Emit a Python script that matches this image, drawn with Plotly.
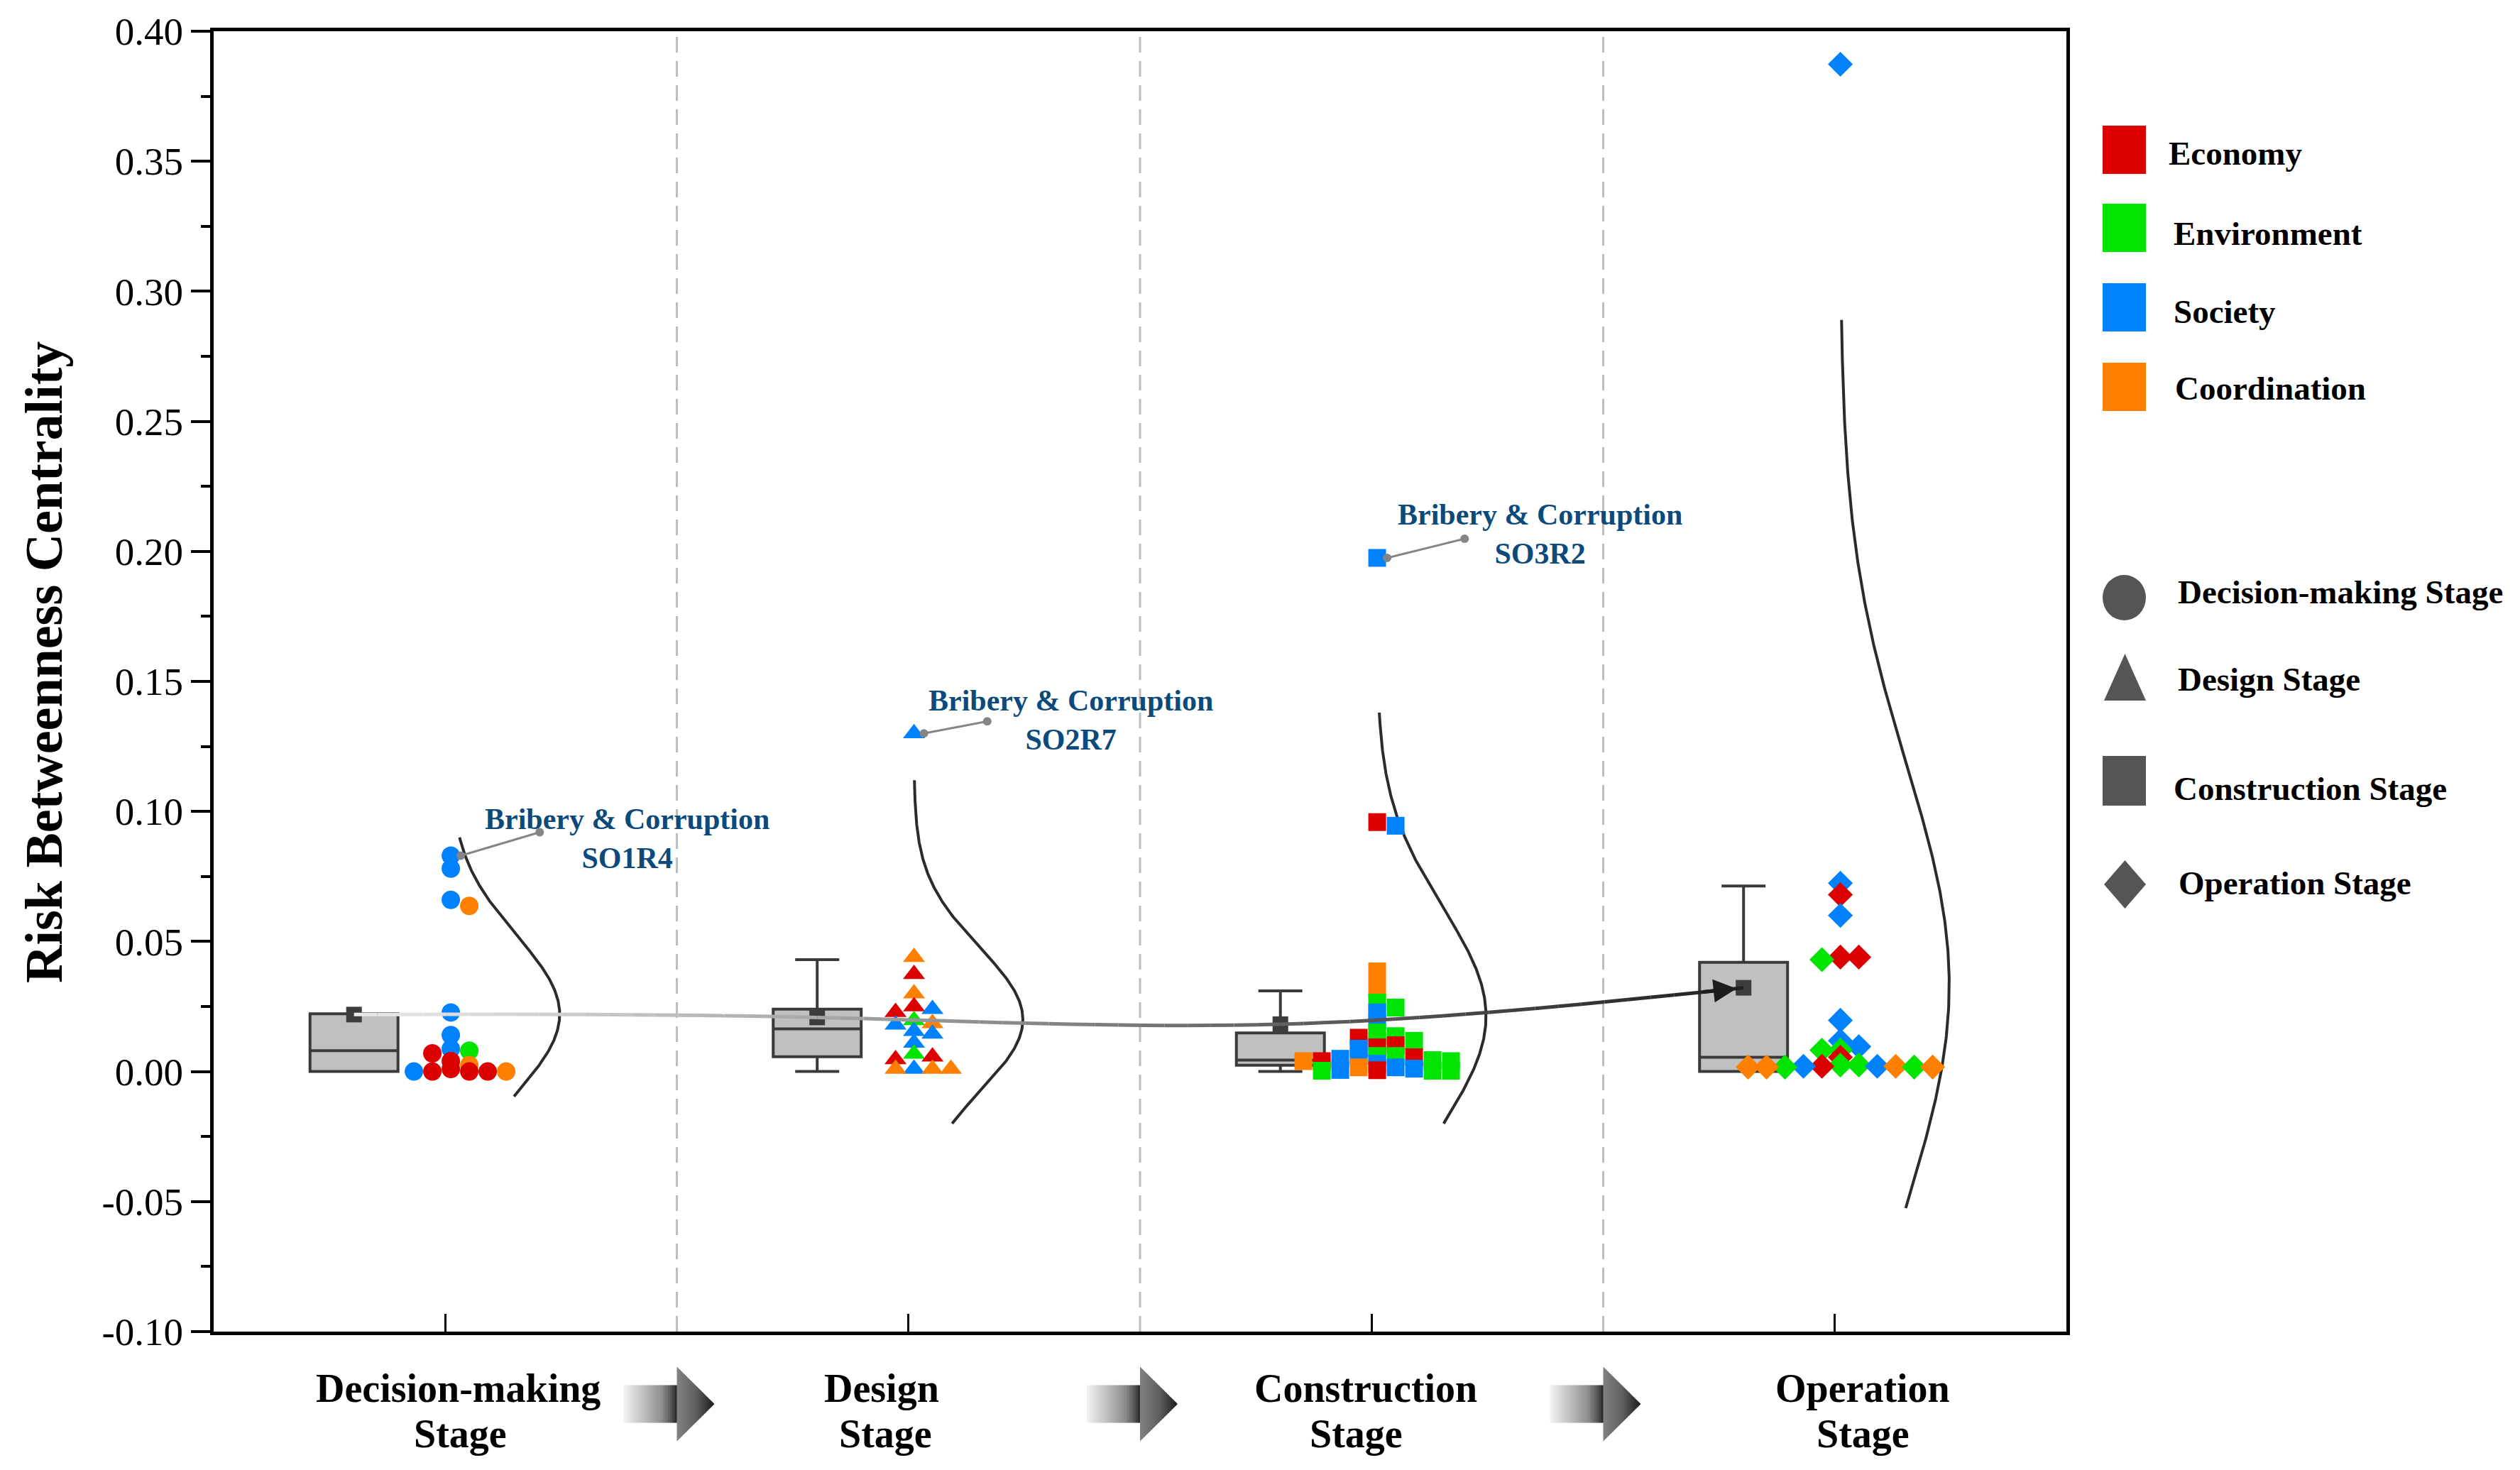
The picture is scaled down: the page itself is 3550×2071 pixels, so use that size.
import numpy as np
import plotly.graph_objects as go

# ---------------------------------------------------------------- data
stage_names = ["Decision-making Stage", "Design Stage", "Construction Stage", "Operation Stage"]
stage_label_top = ["Decision-making", "Design", "Construction", "Operation"]
stage_label_bottom = ["Stage", "Stage", "Stage", "Stage"]
dimension_names = ["Economy", "Environment", "Society", "Coordination"]

decision_economy = [0.0070, 0.0040, 0.0010, 0.0000, 0.0000, 0.0000]
decision_environment = [0.0080]
decision_society = [0.0830, 0.0780, 0.0660, 0.0227, 0.0140, 0.0087, 0.0000]
decision_coordination = [0.0637, 0.0025, 0.0000]

design_economy = [0.0374, 0.0250, 0.0228, 0.0057, 0.0047]
design_environment = [0.0197, 0.0068]
design_society = [0.1300, 0.0240, 0.0180, 0.0155, 0.0145, 0.0110, 0.0010]
design_coordination = [0.0440, 0.0300, 0.0185, 0.0010, 0.0010, 0.0010]

construction_economy = [0.0959, 0.0130, 0.0101, 0.0093, 0.0055, 0.0040, 0.0005]
construction_environment = [0.0265, 0.0246, 0.0150, 0.0136, 0.0118, 0.0118, 0.0060,
                            0.0060, 0.0044, 0.0040, 0.0003, 0.0003, 0.0003]
construction_society = [0.1975, 0.0945, 0.0227, 0.0194, 0.0088, 0.0060, 0.0049,
                        0.0030, 0.0016, 0.0011, 0.0006]
construction_coordination = [0.0385, 0.0317, 0.0040, 0.0016]

operation_economy = [0.0680, 0.0440, 0.0440, 0.0055, 0.0020]
operation_environment = [0.0430, 0.0082, 0.0082, 0.0025, 0.0025, 0.0017, 0.0017]
operation_society = [0.3873, 0.0724, 0.0600, 0.0197, 0.0118, 0.0096, 0.0020, 0.0020]
operation_coordination = [0.0020, 0.0017, 0.0017, 0.0017]

# box statistics per stage
box_q1 = [0.0000, 0.0057, 0.0024, 0.0000]
box_median = [0.0080, 0.0164, 0.0044, 0.0055]
box_q3 = [0.0222, 0.0240, 0.0148, 0.0420]
box_lower = [0.0000, 0.0000, 0.0000, 0.0000]
box_upper = [0.0222, 0.0430, 0.0310, 0.0713]
stage_mean = [0.0219, 0.0208, 0.0182, 0.0322]

# fitted normal distribution curves per stage
curve_mean = [0.0220, 0.0200, 0.0213, 0.0333]
curve_sd = [0.0303, 0.0276, 0.0416, 0.0850]
curve_low = [-0.0096, -0.0200, -0.0200, -0.0525]
curve_high = [0.0900, 0.1120, 0.1380, 0.2890]

y_tick_values = [-0.10, -0.05, 0.00, 0.05, 0.10, 0.15, 0.20, 0.25, 0.30, 0.35, 0.40]
y_tick_labels = ["-0.10", "-0.05", "0.00", "0.05", "0.10", "0.15", "0.20", "0.25", "0.30", "0.35", "0.40"]

highlight_stage = [0, 1, 2]
highlight_text = ["Bribery & Corruption<br>SO1R4",
                  "Bribery & Corruption<br>SO2R7",
                  "Bribery & Corruption<br>SO3R2"]

stage_values = [
    [decision_economy, decision_environment, decision_society, decision_coordination],
    [design_economy, design_environment, design_society, design_coordination],
    [construction_economy, construction_environment, construction_society, construction_coordination],
    [operation_economy, operation_environment, operation_society, operation_coordination],
]

# ---------------------------------------------------------------- style
FONT = "Liberation Serif"
dim_colors = ["#DC0000", "#00E400", "#0082FF", "#FF7F00"]
stage_symbols = ["circle", "triangle-up", "square", "diamond"]
stage_marker_size = [26, 27, 25, 27]
SHAPE_GREY = "#555555"

W, H = 3550, 2071
PL, PR, PT, PB = 301, 2911, 44, 1876
X0, X1 = 0.5, 4.5
Y0, Y1 = -0.10, 0.40
UX = (PR - PL) / (X1 - X0)   # px per category unit
UY = (PB - PT) / (Y1 - Y0)   # px per value unit

SWARM_CENTER = 0.012
SWARM_STEP = 26 / UX
SWARM_THR = 9 / UY
BOX_OFFSET = -0.197
BOX_WIDTH = 0.19
CURVE_BASE = 0.012
CURVE_AMP = 0.235


def paper_x(xpx):
    return (xpx - PL) / (PR - PL)


def paper_y(ypx):
    return (PB - ypx) / (PB - PT)


def swarm_offsets(values):
    vals = np.asarray(values, dtype=float)
    order = np.argsort(-vals, kind="stable")
    placed = []
    offs = np.zeros(len(vals))
    cands = [0] + [s for j in range(1, 60) for s in (j, -j)]
    for i in order:
        v = vals[i]
        for s in cands:
            if all(not (ps == s and abs(pv - v) < SWARM_THR) for ps, pv in placed):
                break
        placed.append((s, v))
        offs[i] = s * SWARM_STEP
    return offs, order


def natural_spline(xk, yk, xs):
    xk = np.asarray(xk, float)
    yk = np.asarray(yk, float)
    n = len(xk)
    h = np.diff(xk)
    A = np.zeros((n, n))
    r = np.zeros(n)
    A[0, 0] = 1
    A[-1, -1] = 1
    for i in range(1, n - 1):
        A[i, i - 1] = h[i - 1]
        A[i, i] = 2 * (h[i - 1] + h[i])
        A[i, i + 1] = h[i]
        r[i] = 3 * ((yk[i + 1] - yk[i]) / h[i] - (yk[i] - yk[i - 1]) / h[i - 1])
    c = np.linalg.solve(A, r)
    b = np.array([(yk[i + 1] - yk[i]) / h[i] - h[i] * (2 * c[i] + c[i + 1]) / 3 for i in range(n - 1)])
    d = np.array([(c[i + 1] - c[i]) / (3 * h[i]) for i in range(n - 1)])
    out = []
    for x in xs:
        i = min(max(np.searchsorted(xk, x) - 1, 0), n - 2)
        t = x - xk[i]
        out.append(yk[i] + b[i] * t + c[i] * t ** 2 + d[i] * t ** 3)
    return np.array(out)


fig = go.Figure()

# dashed separators between stages
for i in range(len(stage_names) - 1):
    fig.add_shape(type="line", xref="x", yref="paper", x0=i + 1.5, x1=i + 1.5, y0=0, y1=1,
                  line=dict(color="#BDBDBD", width=3, dash="22px,12px"), layer="below")

# boxes
box_x = [i + 1 + BOX_OFFSET for i in range(len(stage_names))]
fig.add_trace(go.Box(x=box_x, q1=box_q1, median=box_median, q3=box_q3,
                     lowerfence=box_lower, upperfence=box_upper, orientation="v",
                     width=BOX_WIDTH, whiskerwidth=0.5, fillcolor="#C0C0C0",
                     line=dict(color="#3A3A3A", width=4), boxpoints=False,
                     hoverinfo="skip", showlegend=False))

# distribution curves
for s in range(len(stage_names)):
    ys = np.linspace(curve_low[s], curve_high[s], 300)
    xs = s + 1 + CURVE_BASE + CURVE_AMP * np.exp(-0.5 * ((ys - curve_mean[s]) / curve_sd[s]) ** 2)
    fig.add_trace(go.Scatter(x=xs, y=ys, mode="lines", line=dict(color="#2B2B2B", width=4),
                             hoverinfo="skip", showlegend=False))

# mean markers
fig.add_trace(go.Scatter(x=box_x, y=stage_mean, mode="markers",
                         marker=dict(symbol="square", size=22, color="#3C3C3C"),
                         hoverinfo="skip", showlegend=False))

# swarm points
point_pos = {}
for s in range(len(stage_names)):
    vals, cols, keys = [], [], []
    for d, lst in enumerate(stage_values[s]):
        for j, v in enumerate(lst):
            vals.append(v)
            cols.append(dim_colors[d])
            keys.append((d, j))
    offs, order = swarm_offsets(vals)
    xs = [s + 1 + SWARM_CENTER + offs[i] for i in order]
    ys = [vals[i] for i in order]
    cs = [cols[i] for i in order]
    for i in order:
        point_pos[(s,) + keys[i]] = (s + 1 + SWARM_CENTER + offs[i], vals[i])
    fig.add_trace(go.Scatter(x=xs, y=ys, mode="markers",
                             marker=dict(symbol=stage_symbols[s], size=stage_marker_size[s],
                                         color=cs, line=dict(width=0)),
                             hoverinfo="skip", showlegend=False))

# gradient mean-connecting spline
xs_line = np.linspace(box_x[0], box_x[-1], 301)
ys_line = natural_spline(box_x, stage_mean, xs_line)
nseg = 60
step = (len(xs_line) - 1) // nseg
for k in range(nseg):
    a, b = k * step, (k + 1) * step
    t = (k + 0.5) / nseg
    g = int(round(235 - (235 - 30) * t))
    fig.add_trace(go.Scatter(x=xs_line[a:b + 1], y=ys_line[a:b + 1], mode="lines",
                             line=dict(color=f"rgb({g},{g},{g})", width=5),
                             hoverinfo="skip", showlegend=False))
x_tail = box_x[-1] - 0.09
y_tail = natural_spline(box_x, stage_mean, [x_tail])[0]
fig.add_annotation(x=box_x[-1], y=stage_mean[-1], ax=x_tail, ay=y_tail, xref="x", yref="y",
                   axref="x", ayref="y", text="", showarrow=True, arrowhead=2, arrowsize=1.3,
                   arrowwidth=5, arrowcolor="#1C1C1C", standoff=10)

# highlighted risk labels
start_dx = [14, 14, 14]
end_dx = [133, 111, 131]
end_dy = [33, 17, 27]
text_dx = [256, 229, 237]
text_dy = [24, 19, 33]
for k, s in enumerate(highlight_stage):
    soc = stage_values[s][2]
    j = int(np.argmax(soc))
    px0, v = point_pos[(s, 2, j)]
    xa = px0 + start_dx[k] / UX
    xb = s + 1 + end_dx[k] / UX
    yb = v + end_dy[k] / UY
    fig.add_trace(go.Scatter(x=[xa, xb], y=[v, yb], mode="lines+markers",
                             line=dict(color="#858585", width=3),
                             marker=dict(size=12, color="#858585"),
                             hoverinfo="skip", showlegend=False))
    fig.add_annotation(x=s + 1 + text_dx[k] / UX, y=v + text_dy[k] / UY, xref="x", yref="y",
                       text="<b>" + highlight_text[k] + "</b>", showarrow=False,
                       font=dict(family=FONT, size=42, color="#0B4A7B"),
                       align="center", xanchor="center", yanchor="middle")

# y-axis title
fig.add_annotation(x=paper_x(62), y=paper_y(933), xref="paper", yref="paper",
                   text="<b>Risk Betweenness Centrality</b>", textangle=-90, showarrow=False,
                   font=dict(family=FONT, size=74, color="black"),
                   xanchor="center", yanchor="middle")

# stage labels
line1_px = [645, 1242, 1924, 2624]
line2_px = [648, 1247, 1910, 2624]
for s in range(len(stage_names)):
    fig.add_annotation(x=paper_x(line1_px[s]), y=paper_y(1956), xref="paper", yref="paper",
                       text="<b>" + stage_label_top[s] + "</b>", showarrow=False,
                       font=dict(family=FONT, size=56, color="black"),
                       xanchor="center", yanchor="middle")
    fig.add_annotation(x=paper_x(line2_px[s]), y=paper_y(2020), xref="paper", yref="paper",
                       text="<b>" + stage_label_bottom[s] + "</b>", showarrow=False,
                       font=dict(family=FONT, size=56, color="black"),
                       xanchor="center", yanchor="middle")


# gradient arrows between stage labels
def interp_grey(t, stops):
    ts = [p[0] for p in stops]
    gs = [p[1] for p in stops]
    g = int(round(np.interp(t, ts, gs)))
    return f"rgb({g},{g},{g})"


body_stops = [(0, 244), (0.45, 180), (0.72, 142), (0.88, 90), (1.0, 38)]
head_stops = [(0, 130), (0.5, 96), (1.0, 28)]
for i in range(len(stage_names) - 1):
    bpx = PL + (i + 1.5 - X0) * UX
    x0, xb, xt = bpx - 75, bpx, bpx + 53
    yc, bh, hh = 1978, 26.5, 52.5
    nb = 24
    for k in range(nb):
        xa = x0 + (xb - x0) * k / nb
        xe = x0 + (xb - x0) * (k + 1) / nb + 0.8
        col = interp_grey((k + 0.5) / nb, body_stops)
        fig.add_shape(type="rect", xref="paper", yref="paper",
                      x0=paper_x(xa), x1=paper_x(xe), y0=paper_y(yc + bh), y1=paper_y(yc - bh),
                      fillcolor=col, line=dict(width=0), layer="above")
    nh = 16
    for k in range(nh):
        xa = xb + (xt - xb) * k / nh
        xe = min(xb + (xt - xb) * (k + 1) / nh + 0.8, xt)
        ha = hh * (xt - xa) / (xt - xb)
        he = hh * (xt - xe) / (xt - xb)
        col = interp_grey((k + 0.5) / nh, head_stops)
        path = (f"M {paper_x(xa)},{paper_y(yc - ha)} L {paper_x(xe)},{paper_y(yc - he)} "
                f"L {paper_x(xe)},{paper_y(yc + he)} L {paper_x(xa)},{paper_y(yc + ha)} Z")
        fig.add_shape(type="path", xref="paper", yref="paper", path=path,
                      fillcolor=col, line=dict(width=0), layer="above")

# custom legend
leg_rows = [211, 321, 433, 545]
leg_text_x = [3053, 3060, 3060, 3062]
leg_text_y = [216, 329, 439, 547]
for d in range(len(dimension_names)):
    fig.add_shape(type="rect", xref="paper", yref="paper",
                  x0=paper_x(2962), x1=paper_x(3023),
                  y0=paper_y(leg_rows[d] + 34), y1=paper_y(leg_rows[d] - 34),
                  fillcolor=dim_colors[d], line=dict(width=0))
    fig.add_annotation(x=paper_x(leg_text_x[d]), y=paper_y(leg_text_y[d]), xref="paper", yref="paper",
                       text="<b>" + dimension_names[d] + "</b>", showarrow=False,
                       font=dict(family=FONT, size=47, color="black"),
                       xanchor="left", yanchor="middle")

# stage shape legend
fig.add_shape(type="circle", xref="paper", yref="paper", x0=paper_x(2962), x1=paper_x(3023),
              y0=paper_y(874), y1=paper_y(810), fillcolor=SHAPE_GREY, line=dict(width=0))
fig.add_shape(type="path", xref="paper", yref="paper",
              path=f"M {paper_x(2964)},{paper_y(987)} L {paper_x(3023)},{paper_y(987)} "
                   f"L {paper_x(2993.5)},{paper_y(921)} Z",
              fillcolor=SHAPE_GREY, line=dict(width=0))
fig.add_shape(type="rect", xref="paper", yref="paper", x0=paper_x(2962), x1=paper_x(3023),
              y0=paper_y(1135), y1=paper_y(1065), fillcolor=SHAPE_GREY, line=dict(width=0))
fig.add_shape(type="path", xref="paper", yref="paper",
              path=f"M {paper_x(2964)},{paper_y(1246)} L {paper_x(2993.5)},{paper_y(1212)} "
                   f"L {paper_x(3023)},{paper_y(1246)} L {paper_x(2993.5)},{paper_y(1280)} Z",
              fillcolor=SHAPE_GREY, line=dict(width=0))
shape_text_x = [3066, 3066, 3060, 3067]
shape_text_y = [834, 957, 1111, 1244]
for s in range(len(stage_names)):
    fig.add_annotation(x=paper_x(shape_text_x[s]), y=paper_y(shape_text_y[s]), xref="paper", yref="paper",
                       text="<b>" + stage_names[s] + "</b>", showarrow=False,
                       font=dict(family=FONT, size=47, color="black"),
                       xanchor="left", yanchor="middle")

fig.update_layout(
    width=W, height=H,
    margin=dict(l=PL, r=W - PR, t=PT, b=H - PB, pad=0),
    paper_bgcolor="white", plot_bgcolor="white",
    font=dict(family=FONT, color="black"),
    showlegend=False,
    xaxis=dict(type="linear", range=[X0, X1], tickmode="array", tickvals=[1, 2, 3, 4],
               showticklabels=False, ticks="inside", ticklen=25, tickwidth=3, tickcolor="black",
               showline=True, linewidth=5, linecolor="black", mirror=True,
               showgrid=False, zeroline=False),
    yaxis=dict(range=[Y0, Y1], tickmode="array", tickvals=y_tick_values, ticktext=y_tick_labels,
               ticks="outside", ticklen=27, tickwidth=4, tickcolor="black",
               minor=dict(ticks="outside", ticklen=13, tickwidth=4, tickcolor="black", dtick=0.025),
               tickfont=dict(family=FONT, size=55, color="black"),
               showline=True, linewidth=5, linecolor="black", mirror=True,
               showgrid=False, zeroline=False),
)

fig.write_html("out.html", config={"displayModeBar": False},
               post_script="document.body.style.margin='0';document.body.style.overflow='hidden';")
